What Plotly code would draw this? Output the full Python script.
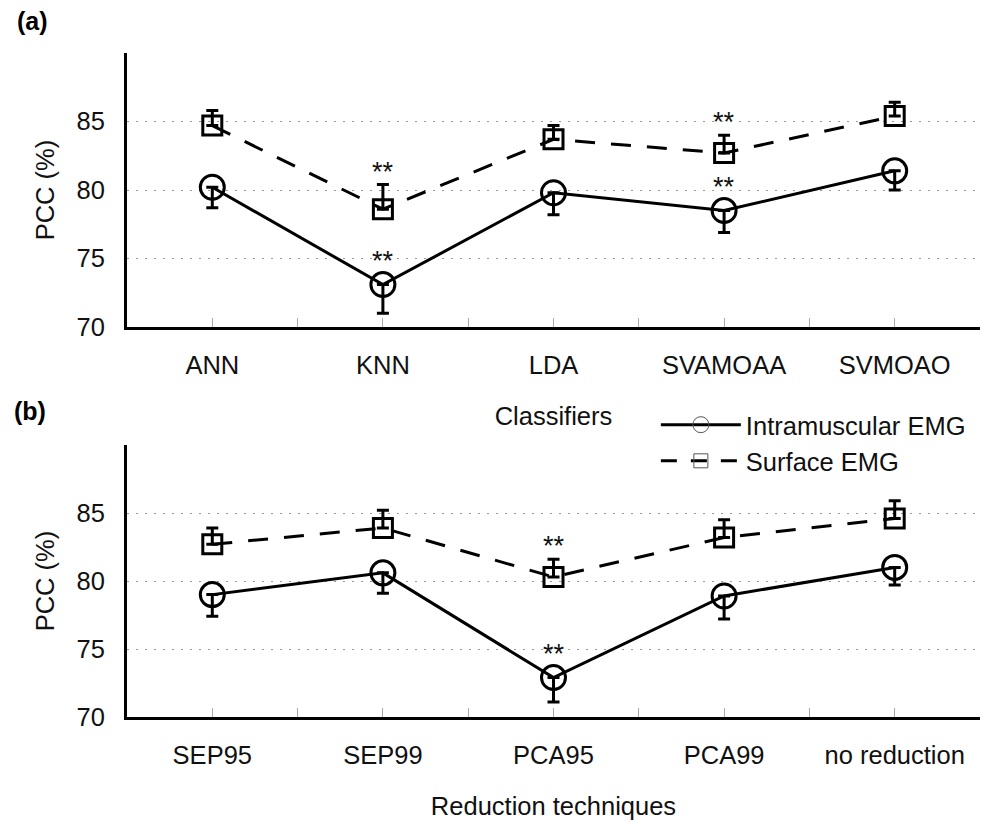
import plotly.graph_objects as go

# ---------------- data ----------------
classifiers = ["ANN", "KNN", "LDA", "SVAMOAA", "SVMOAO"]
reductions = ["SEP95", "SEP99", "PCA95", "PCA99", "no reduction"]

a_intra_mean = [80.2, 73.1, 79.8, 78.5, 81.4]
a_intra_sd = [1.5, 2.1, 1.6, 1.6, 1.4]
a_surf_mean = [84.7, 78.6, 83.7, 82.7, 85.4]
a_surf_sd = [1.1, 1.8, 1.0, 1.3, 1.0]
a_signif = [False, True, False, True, False]

b_intra_mean = [79.0, 80.6, 72.9, 78.9, 81.0]
b_intra_sd = [1.6, 1.5, 1.8, 1.7, 1.3]
b_surf_mean = [82.7, 83.9, 80.3, 83.2, 84.6]
b_surf_sd = [1.2, 1.3, 1.3, 1.3, 1.3]
b_signif = [False, False, True, False, False]

y_ticks = [70, 75, 80, 85]
y_range = [70, 90]
series_names = ["Intramuscular EMG", "Surface EMG"]
x_titles = ["Classifiers", "Reduction techniques"]
panel_labels = ["(a)", "(b)"]

FONT = "Liberation Sans, Arial, Helvetica, sans-serif"
FS = 25.5
TXT = "#111111"

fig = go.Figure()

panels = [
    (classifiers, a_intra_mean, a_intra_sd, a_surf_mean, a_surf_sd, a_signif, "x", "y"),
    (reductions, b_intra_mean, b_intra_sd, b_surf_mean, b_surf_sd, b_signif, "x2", "y2"),
]

annotations = []
for p, (cats, im, isd, sm, ssd, sig, xa, ya) in enumerate(panels):
    xs = list(range(len(cats)))
    zeros = [0] * len(cats)
    fig.add_trace(go.Scatter(
        x=xs, y=sm, xaxis=xa, yaxis=ya, mode="lines+markers",
        name=series_names[1], legendgroup="s", showlegend=False,
        line=dict(color="black", width=3, dash="20px,16px"),
        marker=dict(symbol="square-open", size=19, color="black", line=dict(width=3, color="black")),
        error_y=dict(type="data", array=ssd, arrayminus=zeros, symmetric=False,
                     color="black", thickness=3, width=6),
    ))
    fig.add_trace(go.Scatter(
        x=xs, y=im, xaxis=xa, yaxis=ya, mode="lines+markers",
        name=series_names[0], legendgroup="i", showlegend=False,
        line=dict(color="black", width=3),
        marker=dict(symbol="circle-open", size=24, color="black", line=dict(width=3, color="black")),
        error_y=dict(type="data", array=zeros, arrayminus=isd, symmetric=False,
                     color="black", thickness=3, width=6),
    ))
    for i, s in enumerate(sig):
        if s:
            annotations.append(dict(x=xs[i], y=sm[i] + ssd[i], xref=xa, yref=ya, text="**",
                                    showarrow=False, yanchor="middle", yshift=13,
                                    font=dict(family=FONT, size=27, color=TXT)))
            annotations.append(dict(x=xs[i], y=im[i], xref=xa, yref=ya, text="**",
                                    showarrow=False, yanchor="middle", yshift=24,
                                    font=dict(family=FONT, size=27, color=TXT)))

# legend entries (styled like the reference legend)
fig.add_trace(go.Scatter(
    x=[None], y=[None], mode="lines+markers", name=series_names[0], legendgroup="i",
    line=dict(color="black", width=3),
    marker=dict(symbol="circle-open", size=16, color="#555555", line=dict(width=1, color="#555555")),
))
fig.add_trace(go.Scatter(
    x=[None], y=[None], mode="lines+markers", name=series_names[1], legendgroup="s",
    line=dict(color="black", width=3, dash="16px,14px"),
    marker=dict(symbol="square-open", size=14, color="#555555", line=dict(width=1, color="#555555")),
))


def xaxis_cfg(cats, title, anchor):
    n = len(cats)
    tv = [k * 0.5 - 0.5 for k in range(2 * n + 1)]
    tt = [cats[int(v)] if float(v).is_integer() else "" for v in tv]
    return dict(
        anchor=anchor, domain=[0, 1], range=[-0.5, n - 0.5], automargin=False,
        tickmode="array", tickvals=tv, ticktext=tt,
        ticks="inside", ticklen=9, tickwidth=1, tickcolor="#aaaaaa",
        showline=True, linecolor="black", linewidth=3, showgrid=False, zeroline=False,
        ticklabelstandoff=13,
        tickfont=dict(family=FONT, size=FS, color=TXT),
        title=dict(text=title, font=dict(family=FONT, size=FS, color=TXT), standoff=30),
    )


def yaxis_cfg(domain, anchor):
    return dict(
        anchor=anchor, domain=domain, range=y_range, automargin=False,
        tickmode="array", tickvals=y_ticks, ticks="",
        showline=True, linecolor="black", linewidth=3,
        showgrid=True, gridcolor="#999999", gridwidth=1, griddash="2px,7px",
        zeroline=False, ticklabelstandoff=14,
        tickfont=dict(family=FONT, size=FS, color=TXT),
        title=dict(text="PCC (%)", font=dict(family=FONT, size=FS, color=TXT), standoff=15),
    )


annotations.append(dict(x=-0.1313, y=1.048, xref="paper", yref="paper", text="<b>" + panel_labels[0] + "</b>",
                        showarrow=False, xanchor="left", yanchor="middle",
                        font=dict(family=FONT, size=25, color="black")))
annotations.append(dict(x=-0.1348, y=0.461, xref="paper", yref="paper", text="<b>" + panel_labels[1] + "</b>",
                        showarrow=False, xanchor="left", yanchor="middle",
                        font=dict(family=FONT, size=25, color="black")))

# the page body adds an 8px margin, so the figure is sized to fill the rest of the window
fig.update_layout(
    width=990, height=814,
    margin=dict(l=119, r=18, t=45, b=105),
    paper_bgcolor="white", plot_bgcolor="white",
    font=dict(family=FONT, size=FS, color=TXT),
    xaxis=xaxis_cfg(classifiers, x_titles[0], "y"),
    yaxis=yaxis_cfg([0.5873, 1.0], "x"),
    xaxis2=xaxis_cfg(reductions, x_titles[1], "y2"),
    yaxis2=yaxis_cfg([0.0, 0.4096], "x2"),
    annotations=annotations,
    showlegend=True,
    legend=dict(x=0.62, y=0.475, xanchor="left", yanchor="top", traceorder="normal",
                bgcolor="rgba(0,0,0,0)", itemwidth=80, tracegroupgap=0,
                font=dict(family=FONT, size=FS, color=TXT)),
)

fig.write_html("out.html")
